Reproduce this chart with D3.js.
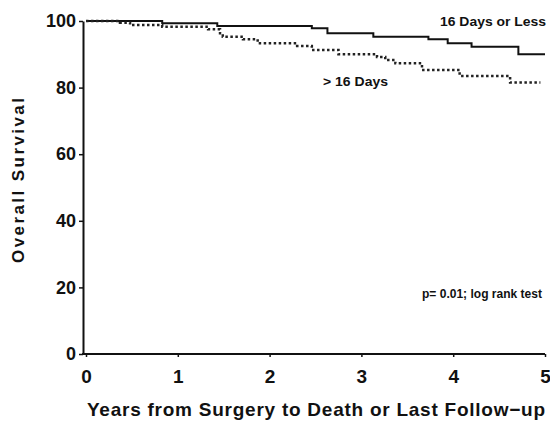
<!DOCTYPE html>
<html>
<head>
<meta charset="utf-8">
<script src="https://cdn.jsdelivr.net/npm/d3@7"></script>
<style>
  body { margin: 0; background: #fff; }
  text { font-family: "Liberation Sans", Arial, sans-serif; fill: #111; }
</style>
</head>
<body>
<div class="chart"></div>
<script>
// Kaplan-Meier steps (years, % surviving)
const shortTimes = [0, 0.83, 1.43, 2.46, 2.63, 3.13, 3.73, 3.94, 4.2, 4.71, 5.0];
const shortSurv  = [100, 99.3, 98.5, 97.8, 96.3, 95.3, 94.5, 93.3, 92.3, 90.0, 90.0];

const longTimes = [0, 0.37, 0.48, 0.83, 1.33, 1.46, 1.49, 1.71, 1.87, 2.3, 2.46, 2.75, 3.17, 3.26, 3.37, 3.66, 4.07, 4.62, 4.95];
const longSurv  = [100, 99.5, 98.8, 98.3, 97.5, 96.3, 95.3, 94.5, 93.3, 92.5, 91.3, 90.0, 89.2, 88.3, 87.3, 85.3, 83.5, 81.5, 81.5];

const xTicks = [0, 1, 2, 3, 4, 5];
const yTicks = [0, 20, 40, 60, 80, 100];

const widthMax = 550, heightMax = 422;
const margin = { top: 21, bottom: 68, left: 86, right: 5 };

const svg = d3.select(".chart")
    .append("svg")
    .attr("width", widthMax)
    .attr("height", heightMax);

const x = d3.scaleLinear().domain([0, 5]).range([margin.left, widthMax - margin.right]);
const y = d3.scaleLinear().domain([0, 100]).range([heightMax - margin.bottom, margin.top]);

const axisX = x(0) - 3;

// y axis
const yAxis = svg.append("g")
    .attr("transform", "translate(" + axisX + ",0)")
    .call(d3.axisLeft(y).tickValues(yTicks).tickSize(4).tickSizeOuter(0).tickPadding(3));
yAxis.select(".domain").attr("stroke-width", 2).attr("stroke", "#111");
yAxis.selectAll(".tick line").attr("stroke-width", 1.5).attr("stroke", "#111");
yAxis.selectAll(".tick text")
    .style("font-size", "18px").style("font-weight", "bold")
    .style("font-family", "Liberation Sans, Arial, sans-serif").attr("fill", "#111");

// x axis
const xAxis = svg.append("g")
    .attr("transform", "translate(0," + y(0) + ")")
    .call(d3.axisBottom(x).tickValues(xTicks).tickFormat(d3.format("d")).tickSize(3).tickSizeOuter(0).tickPadding(13));
xAxis.select(".domain").remove();
xAxis.selectAll(".tick line").attr("stroke-width", 1.5).attr("stroke", "#111");
xAxis.selectAll(".tick text")
    .style("font-size", "19px").style("font-weight", "bold")
    .style("font-family", "Liberation Sans, Arial, sans-serif").attr("fill", "#111");
svg.append("line")
    .attr("x1", axisX - 1).attr("x2", x(5))
    .attr("y1", y(0)).attr("y2", y(0))
    .attr("stroke", "#111").attr("stroke-width", 2);

// curves
const line = d3.line()
    .x((d) => x(d[0]))
    .y((d) => y(d[1]))
    .curve(d3.curveStepAfter);

svg.append("path")
    .datum(d3.zip(shortTimes, shortSurv))
    .attr("d", line)
    .attr("fill", "none")
    .attr("stroke", "#111")
    .attr("stroke-width", 2);

svg.append("path")
    .datum(d3.zip(longTimes, longSurv))
    .attr("d", line)
    .attr("fill", "none")
    .attr("stroke", "#222")
    .attr("stroke-width", 2.5)
    .attr("stroke-dasharray", "2.5,2.5");

// labels
svg.append("text")
    .text("16 Days or Less")
    .attr("x", 440).attr("y", 26)
    .attr("textLength", 106).attr("lengthAdjust", "spacingAndGlyphs")
    .style("font-size", "12px").style("font-weight", "bold");

svg.append("text")
    .text("> 16 Days")
    .attr("x", 323).attr("y", 86)
    .attr("textLength", 65).attr("lengthAdjust", "spacingAndGlyphs")
    .style("font-size", "12px").style("font-weight", "bold");

svg.append("text")
    .text("p= 0.01; log rank test")
    .attr("x", 422).attr("y", 298)
    .attr("textLength", 120).attr("lengthAdjust", "spacingAndGlyphs")
    .style("font-size", "12px").style("font-weight", "bold");

// axis titles
svg.append("text")
    .text("Years from Surgery to Death or Last Follow\u2212up")
    .attr("x", 87).attr("y", 416)
    .attr("textLength", 458).attr("lengthAdjust", "spacing")
    .style("font-size", "19px").style("font-weight", "bold");

svg.append("text")
    .text("Overall Survival")
    .attr("transform", "translate(24,263) rotate(-90)")
    .attr("textLength", 165).attr("lengthAdjust", "spacing")
    .style("font-size", "17px").style("font-weight", "bold");
</script>
</body>
</html>
